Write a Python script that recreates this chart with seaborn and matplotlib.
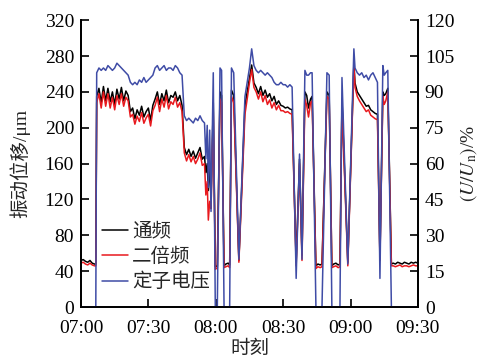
import matplotlib
matplotlib.use('Agg')
import matplotlib.pyplot as plt
import pandas as pd
import seaborn as sns

# time in minutes after 07:00
t = [0, 1, 2, 3, 4, 5, 6, 6.6,
     7, 8, 9, 10, 11, 12, 13, 14, 15, 16, 17, 18, 19, 20, 21,
     22, 23, 24, 25, 26, 27, 28, 29, 30, 31, 32,
     33, 34, 35, 36, 37, 38, 39, 40, 41, 42, 43, 44, 45,
     46, 47, 48, 49, 50, 51, 52, 53, 54,
     55, 55.6, 56.2, 56.7, 57.3, 57.9, 58.9, 59.8, 60.7, 61.9, 62.6, 63.7,
     64.5, 65.5, 66.2, 67, 68, 70.3, 73, 74, 75, 76, 77,
     78, 79, 80, 81, 82, 83, 84, 85, 86, 87, 88, 89, 90, 91, 92, 93, 94,
     95.8, 97.3, 98.4, 99.7, 100.5, 101.3, 102.2, 102.9, 104.6, 105.5, 106.5,
     107.3, 109.5, 110.5, 111.7, 112.5, 113.5, 114.5, 115.3, 116.2, 118.8, 121.5,
     122, 123, 124, 125, 126, 127, 128, 129, 130, 131,
     132, 133.1, 134.4, 135, 135.7, 136.6, 138.2,
     139, 140, 141, 142, 143, 144, 145, 146, 147, 148, 149, 150]

# 通频 (um)
tongpin = [52, 53, 51, 50, 52, 49, 48, 48,
           235, 244, 228, 246, 230, 244, 229, 240, 226, 243, 232, 245, 230, 241, 236,
           218, 222, 210, 220, 214, 224, 212, 218, 222, 208, 225,
           232, 240, 226, 238, 230, 242, 228, 236, 234, 240, 230, 236, 225,
           178, 170, 176, 168, 174, 166, 172, 178, 165,
           168, 150, 160, 130, 160, 120, 228, 45, 46, 240, 236, 46,
           48, 49, 47, 242, 236, 52, 225, 240, 255, 270, 250,
           245, 238, 246, 236, 242, 234, 238, 230, 235, 226, 230, 225, 224, 222, 223, 221, 220,
           50, 165, 58, 240, 236, 222, 232, 235, 46, 48, 47,
           48, 240, 236, 46, 48, 49, 47, 48, 232, 50, 272,
           250, 240, 236, 232, 228, 224, 225, 220, 218, 216,
           215, 55, 240, 236, 238, 244, 48,
           49, 48, 50, 49, 48, 50, 49, 48, 50, 49, 50, 49]

# 二倍频 (um)
erbeipin = [49, 50, 48, 47, 49, 47, 46, 46,
            228, 238, 222, 240, 224, 238, 222, 234, 220, 236, 226, 238, 224, 234, 230,
            212, 215, 204, 213, 207, 217, 205, 211, 215, 202, 219,
            225, 234, 218, 232, 223, 236, 221, 229, 226, 234, 223, 228, 218,
            172, 163, 170, 162, 168, 160, 165, 172, 158,
            160, 125, 140, 97, 118, 110, 218, 42, 44, 232, 228, 44,
            45, 46, 44, 235, 228, 50, 215, 232, 250, 265, 245,
            240, 232, 240, 229, 236, 226, 231, 222, 228, 220, 225, 219, 219, 217, 218, 216, 215,
            46, 160, 52, 232, 225, 212, 228, 230, 43, 45, 44,
            45, 235, 232, 44, 45, 46, 44, 45, 228, 46, 270,
            245, 235, 230, 226, 222, 218, 220, 214, 212, 210,
            209, 52, 235, 226, 230, 240, 46,
            46, 45, 46, 47, 45, 46, 46, 45, 46, 47, 46, 46]

# 定子电压 (%)
dianya = [0, 0, 0, 0, 0, 0, 0, 0,
          98, 100, 99, 100, 99, 101, 100, 99, 100, 102, 101, 100, 99, 98, 97,
          94, 93, 94, 93, 95, 94, 96, 94, 95, 96, 97,
          100, 101, 99, 100, 101, 99, 100, 100, 99, 101, 100, 98, 97,
          80, 78, 79, 78, 77, 79, 78, 80, 78,
          77, 62, 76, 50, 74, 40, 98, 0, 0, 100, 99, 0,
          0, 0, 0, 100, 98, 20, 88, 94, 100, 108, 101,
          99, 98, 99, 98, 97, 98, 97, 96, 94, 93, 93, 94, 93, 93, 92, 93, 92,
          12, 64, 20, 99, 97, 97, 98, 98, 0, 0, 0,
          0, 98, 97, 0, 0, 0, 0, 0, 96, 18, 108,
          100, 98, 97, 98, 96, 97, 95, 97, 98, 96,
          94, 12, 101, 97, 98, 99, 0,
          0, 0, 0, 0, 0, 0, 0, 0, 0, 0, 0, 0]

xticks = [0, 30, 60, 90, 120, 150]
xlabels = ['07:00', '07:30', '08:00', '08:30', '09:00', '09:30']
yticks_left = [0, 40, 80, 120, 160, 200, 240, 280, 320]
yticks_right = [0, 15, 30, 45, 60, 75, 90, 105, 120]

sns.set_style('ticks')
plt.rcParams['font.family'] = ['Liberation Serif', 'Noto Sans CJK SC']
plt.rcParams['mathtext.fontset'] = 'stix'
plt.rcParams['xtick.direction'] = 'in'
plt.rcParams['ytick.direction'] = 'in'

df = pd.DataFrame({'t': t, '通频': tongpin, '二倍频': erbeipin, '定子电压': dianya})

fig, ax = plt.subplots(figsize=(4.82, 3.6), dpi=100)
fig.subplots_adjust(left=0.168, right=0.867, bottom=0.147, top=0.944)

sns.lineplot(data=df, x='t', y='通频', ax=ax, color='black', lw=1.1, legend=False)
sns.lineplot(data=df, x='t', y='二倍频', ax=ax, color='#e8191e', lw=1.1, legend=False)
ax2 = ax.twinx()
sns.lineplot(data=df, x='t', y='定子电压', ax=ax2, color='#3f4ca6', lw=1.1, legend=False)

ax.set_xlim(0, 150)
ax.set_ylim(0, 320)
ax2.set_ylim(0, 120)
ax.set_xticks(xticks)
ax.set_xticklabels(xlabels)
ax.set_yticks(yticks_left)
ax2.set_yticks(yticks_right)

for a in (ax, ax2):
    a.spines['top'].set_visible(False)
    for s in a.spines.values():
        s.set_linewidth(1.3)
        s.set_color('black')
    a.tick_params(labelsize=14, length=6, width=1.2, colors='black')
ax.tick_params(axis='x', pad=9)
ax.tick_params(axis='y', pad=5)
ax2.tick_params(axis='y', pad=5)

ax.set_xlabel('时刻', fontsize=14, labelpad=3)
ax.set_ylabel('振动位移/μm', fontsize=14, labelpad=10)
ax2.set_ylabel(r'$(U/U_{\rm n})$/%', fontsize=14, labelpad=3)

handles = ax.get_lines()[:2] + ax2.get_lines()[:1]
ax2.legend(handles, ['通频', '二倍频', '定子电压'], loc='upper left',
           bbox_to_anchor=(0.027, 0.335), frameon=False, fontsize=14,
           handlelength=1.35, handletextpad=0.2, labelspacing=0.36, borderaxespad=0.2)

plt.savefig('out.png', dpi=100)
